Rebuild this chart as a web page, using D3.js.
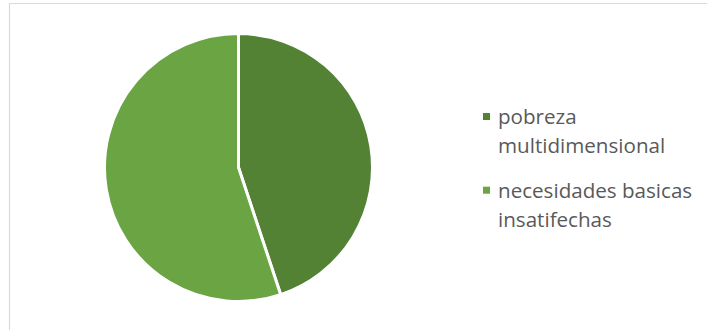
<!DOCTYPE html>
<html><head><meta charset="utf-8">
<script src="https://cdn.jsdelivr.net/npm/d3@7"></script>
<style>html,body{margin:0;padding:0;background:#fff;}svg{display:block;}</style>
</head><body>
<svg id="chart" width="707" height="330"></svg>
<script>
const categories = ["pobreza multidimensional", "necesidades basicas insatifechas"];
const values = [44.9, 55.1];
const legendLines = [["pobreza", "multidimensional"], ["necesidades basicas", "insatifechas"]];
const colors = ["#548235", "#6aa443"];

const svg = d3.select("#chart");
// chart area border (top + left visible)
svg.append("path").attr("d", "M9.5,330 V3.5 H707").attr("fill", "none").attr("stroke", "#d9d9d9").attr("stroke-width", 1.2);

const cx = 238.5, cy = 167.5, r = 134;
const pie = d3.pie().sort(null).value(d => d)(values);
const arc = d3.arc().innerRadius(0).outerRadius(r);
const g = svg.append("g").attr("transform", `translate(${cx},${cy})`);
g.selectAll("path").data(pie).join("path")
  .attr("d", arc)
  .attr("fill", (d, i) => colors[i])
  .attr("stroke", "#fff").attr("stroke-width", 3).attr("stroke-linejoin", "round");

const leg = svg.append("g").attr("font-family", "'Open Sans', sans-serif").attr("font-size", 20.6).attr("fill", "#595959");
const itemY = [124, 197.7];
legendLines.forEach((lines, i) => {
  leg.append("rect").attr("x", 483).attr("y", itemY[i] - 11).attr("width", 7).attr("height", 7).attr("fill", colors[i]);
  lines.forEach((t, j) => {
    leg.append("text").attr("x", 498).attr("y", itemY[i] + j * 29.3).text(t);
  });
});
</script>
</body></html>
